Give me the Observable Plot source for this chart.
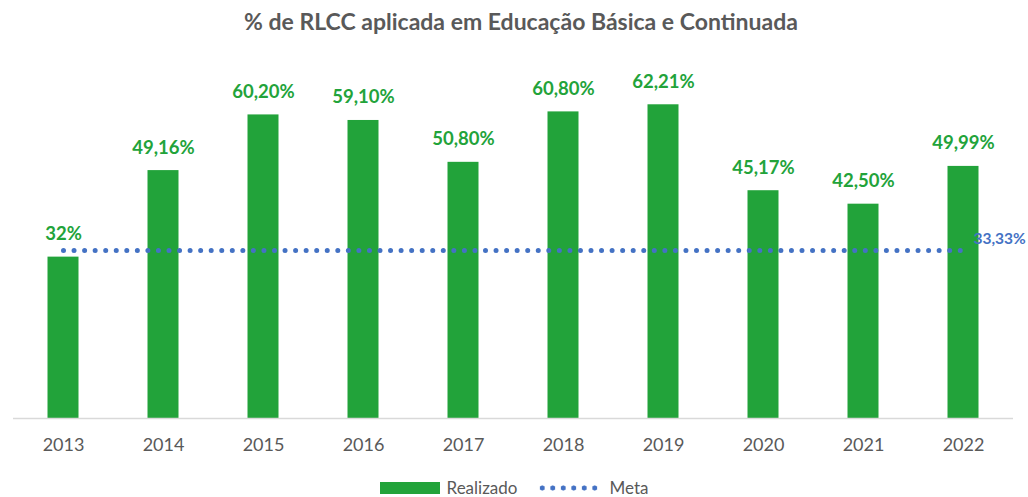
<!DOCTYPE html>
<html>
<head>
<meta charset="utf-8">
<script src="https://cdn.jsdelivr.net/npm/d3@7"></script>
<script src="https://cdn.jsdelivr.net/npm/@observablehq/plot@0.6"></script>
<style>
  html, body { margin: 0; padding: 0; background: #fff; width: 1028px; height: 497px; overflow: hidden; }
  body { font-family: Lato, "Open Sans", sans-serif; }
  #title { height: 40px; line-height: 42px; text-align: center; font-weight: bold; font-size: 23px; color: #595959; padding-left: 14px; }
  #legend { height: 27px; display: flex; justify-content: center; align-items: center; font-size: 17px; color: #595959; padding-top: 4px; padding-left: 0px; }
  .sw { display: inline-block; width: 60px; height: 12px; background: #22A33A; margin-right: 7px; }
  .dots { display: inline-block; width: 62px; height: 6px; margin-left: 20px; margin-right: 10px;
          background-image: radial-gradient(circle, #4472C4 2.3px, transparent 2.8px); background-size: 10.5px 6px; background-repeat: repeat-x; }
</style>
</head>
<body>
<div id="title">% de RLCC aplicada em Educação Básica e Continuada</div>
<div id="chart"></div>
<div id="legend"><span class="sw"></span><span>Realizado</span><span class="dots"></span><span>Meta</span></div>
<script>
const years = ["2013","2014","2015","2016","2017","2018","2019","2020","2021","2022"];
const realizado = [32, 49.16, 60.20, 59.10, 50.80, 60.80, 62.21, 45.17, 42.50, 49.99];
const realizadoLabels = ["32%","49,16%","60,20%","59,10%","50,80%","60,80%","62,21%","45,17%","42,50%","49,99%"];
const meta = [33.33, 33.33, 33.33, 33.33, 33.33, 33.33, 33.33, 33.33, 33.33, 33.33];
const metaLabel = "33,33%";

const green = "#22A33A";
const blue = "#4472C4";

const rows = years.map((y, i) => ({year: y, value: realizado[i], label: realizadoLabels[i], meta: meta[i]}));
const last = rows[rows.length - 1];

const chart = Plot.plot({
  width: 1028,
  height: 430,
  marginLeft: 13,
  marginRight: 15,
  marginTop: 25,
  marginBottom: 52,
  style: {fontFamily: "Lato, 'Open Sans', sans-serif", background: "#fff", overflow: "visible"},
  x: {domain: years, paddingInner: 0.69, paddingOuter: 0.345, round: false, label: null},
  y: {domain: [0, 70], axis: null},
  marks: [
    Plot.barY(rows, {x: "year", y: "value", fill: green}),
    Plot.ruleY([0], {stroke: "#D9D9D9", strokeWidth: 1.5}),
    Plot.line(rows, {x: "year", y: "meta", stroke: blue, strokeWidth: 5, strokeDasharray: "0,10.55", strokeLinecap: "round"}),
    Plot.text(rows, {x: "year", y: "value", text: "label", dy: -23, fill: green, fontWeight: "bold", fontSize: 18.5}),
    Plot.text([last], {x: "year", y: "meta", text: () => metaLabel, dx: 10, dy: -11, textAnchor: "start", fill: blue, fontWeight: "bold", fontSize: 15.5}),
    Plot.axisX({tickSize: 0, tickPadding: 20, fontSize: 18, color: "#595959", label: null})
  ]
});
document.getElementById("chart").appendChild(chart);
</script>
</body>
</html>
